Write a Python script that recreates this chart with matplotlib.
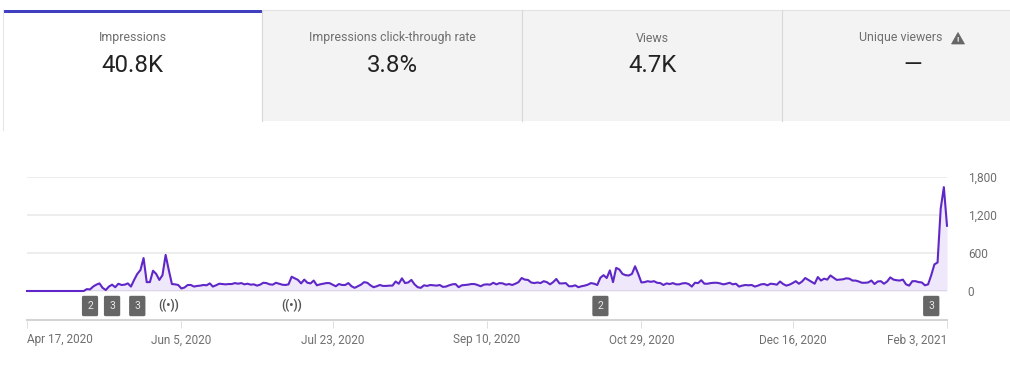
import matplotlib
matplotlib.use("Agg")
import matplotlib.pyplot as plt
import matplotlib.dates as mdates
import pandas as pd
from matplotlib.patches import Rectangle, Polygon
from matplotlib.transforms import blended_transform_factory

plt.rcParams['font.family'] = ['Roboto', 'DejaVu Sans']

tab_titles = ["Impressions", "Impressions click-through rate", "Views", "Unique viewers"]
tab_values = ["40.8K", "3.8%", "4.7K", "—"]

impressions = [0]*19 + [
    30,25,70,100,120,50,15,70,100,60,115,95,100,120,70,175,270,330,520,140,
    140,320,270,175,250,570,330,110,105,95,40,55,95,95,70,80,85,95,90,
    120,70,90,115,110,105,110,110,125,115,125,105,115,100,105,85,100,130,125,105,
    100,130,115,100,95,105,225,200,175,120,180,130,120,165,90,105,
    115,125,125,100,75,110,95,95,125,75,50,75,100,140,130,90,60,75,95,80,
    80,85,85,150,115,200,125,135,175,105,60,50,90,80,95,90,85,95,65,70,
    90,105,110,60,90,95,100,110,110,95,75,100,105,100,130,105,125,120,100,110,
    95,115,140,205,180,175,135,125,135,125,155,140,105,140,190,120,120,125,75,75,
    90,60,75,85,100,125,115,95,210,250,205,325,140,365,340,270,250,245,270,390,
    270,135,140,155,145,155,130,125,95,120,110,125,105,105,120,125,110,70,130,125,
    170,115,115,125,130,130,120,105,115,130,105,115,70,85,95,90,95,70,85,105,
    110,90,115,110,100,150,110,85,100,125,155,115,150,205,175,145,115,220,165,195,
    180,245,210,175,180,185,200,195,165,165,150,130,130,135,165,110,150,155,115,150,
    215,180,170,165,180,105,85,155,155,140,135,90,105,250,420,450,1300,1640,1030,
]
assert len(impressions) == 293, len(impressions)
dates = pd.date_range("2020-04-17", periods=len(impressions), freq="D")

y_ticks = [0, 600, 1200, 1800]
y_labels = ["0", "600", "1,200", "1,800"]
x_tick_dates = ["2020-04-17", "2020-06-05", "2020-07-23", "2020-09-10",
                "2020-10-29", "2020-12-16", "2021-02-03"]
x_tick_labels = ["Apr 17, 2020", "Jun 5, 2020", "Jul 23, 2020", "Sep 10, 2020",
                 "Oct 29, 2020", "Dec 16, 2020", "Feb 3, 2021"]
badge_dates = ["2020-05-07", "2020-05-14", "2020-05-22", "2020-10-16", "2021-01-29"]
badge_labels = ["2", "3", "3", "2", "3"]
live_dates = ["2020-06-01", "2020-07-10"]

W, H = 1010, 365
fig = plt.figure(figsize=(W/100, H/100), dpi=100, facecolor="white")

# page chrome, in pixel coordinates
bg = fig.add_axes([0, 0, 1, 1])
bg.set_xlim(0, W); bg.set_ylim(H, 0); bg.axis("off")
bg.add_patch(Rectangle((262, 10), W-262, 111, fc="#f3f3f3", ec="none"))
bg.plot([3, 3], [10, 130], color="#e6e6e6", lw=0.8)
bg.plot([262, W], [9.5, 9.5], color="#e2e2e2", lw=0.8)
for x in (262, 522, 782):
    bg.plot([x, x], [10, 121], color="#d8d8d8", lw=0.8)
bg.add_patch(Rectangle((3, 10), 259, 3, fc="#3f3fbf", ec="none"))

centers = [132.5, 392.5, 652.5, 901]
for cx, title, value in zip(centers, tab_titles, tab_values):
    bg.text(cx, 38, title, ha="center", va="center", fontsize=8.9, color="#6f6f6f")
    bg.text(cx if title != "Unique viewers" else 912.5, 65.5, value, ha="center", va="center",
            fontsize=17.3, color="#222222")
bg.add_patch(Polygon([[951.5, 44], [958, 32.5], [964.5, 44]], closed=True, fc="#666666", ec="#666666", lw=0.5))
bg.text(958, 39.5, "!", ha="center", va="center", fontsize=6, color="#f3f3f3", fontweight="bold")

# main chart
L, R, T, B = 27, 947, 177, 291
ax = fig.add_axes([L/W, 1-B/H, (R-L)/W, (B-T)/H])
ax.patch.set_alpha(0)
ax.fill_between(dates, impressions, 0, color="#efe7fa", lw=0, zorder=1)
ax.plot(dates, impressions, color="#5f27c7", lw=1.5, solid_joinstyle="round", zorder=3, clip_on=False)
ax.set_xlim(dates[0], dates[-1])
ax.set_ylim(0, 1800)
for s in ax.spines.values():
    s.set_visible(False)
ax.set_yticks(y_ticks, y_labels)
ax.yaxis.tick_right()
ax.tick_params(axis="y", length=0, pad=15, labelsize=8.6, labelcolor="#6f6f6f")
ax.set_xticks([])
ax.grid(axis="y", color="#ececec", lw=1.3, zorder=0)
ax.set_axisbelow(True)
ax.axhline(0, color="#666666", lw=0.9, zorder=2)

# annotation row under the plot
tr = blended_transform_factory(ax.transData, bg.transData)
for d, lab in zip(badge_dates, badge_labels):
    ax.text(pd.Timestamp(d), 306, lab, transform=tr, ha="center", va="center", fontsize=7.5,
            color="#e8e8e8", clip_on=False,
            bbox=dict(boxstyle="round,pad=0.5,rounding_size=0.15", fc="#666666", ec="none"))
for d in live_dates:
    ax.text(pd.Timestamp(d), 306, "((•))", transform=tr, ha="center", va="center",
            fontsize=8.5, color="#555555", fontweight="bold", clip_on=False)

# time axis
ax2 = fig.add_axes([L/W, 1-321/H, (R-L)/W, 1/H])
ax2.patch.set_alpha(0)
ax2.set_xlim(dates[0], dates[-1])
ax2.set_yticks([])
for k in ("left", "right", "bottom"):
    ax2.spines[k].set_visible(False)
ax2.spines["top"].set_color("#d4d4d4")
ax2.spines["top"].set_linewidth(1.5)
ax2.set_xticks([mdates.date2num(pd.Timestamp(d)) for d in x_tick_dates], x_tick_labels)
ax2.tick_params(axis="x", length=5, width=0.7, color="#dddddd", pad=4, labelsize=8.5, labelcolor="#6f6f6f")
lbls = ax2.get_xticklabels()
lbls[0].set_ha("left")
lbls[-1].set_ha("right")

fig.savefig("out.png", dpi=100)
